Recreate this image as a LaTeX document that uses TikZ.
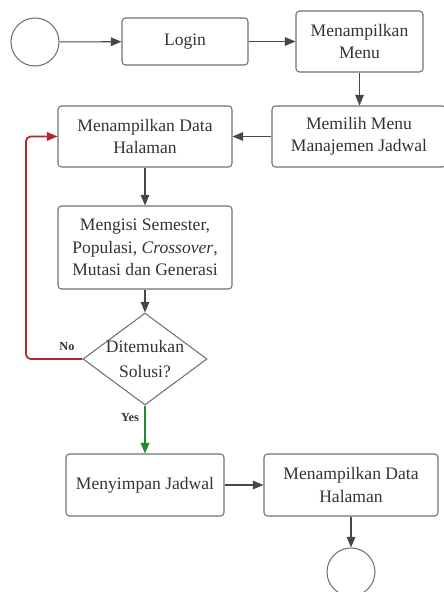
\documentclass[tikz,border=0pt]{standalone}
\usepackage{fontspec}
\setmainfont{Liberation Serif}
\usetikzlibrary{arrows.meta,shapes.geometric}
\definecolor{boxline}{HTML}{707070}
\definecolor{txt}{HTML}{333333}
\definecolor{arrowgray}{HTML}{43484E}
\definecolor{noRed}{HTML}{B3262B}
\definecolor{yesGreen}{HTML}{1E8C2F}
\begin{document}
\begin{tikzpicture}[x=0.03cm, y=-0.03cm, >={Triangle[length=0.32cm,width=0.26cm]},
        box/.style={draw=boxline, line width=0.9pt, rounded corners=3pt, align=center,
            text=txt, font=\fontsize{15}{19}\selectfont, inner sep=0pt},
        term/.style={circle, draw=boxline, line width=0.9pt, minimum size=1.44cm, inner sep=0pt},
        flow/.style={->, arrowgray, line width=0.9pt},
        answer/.style={font=\bfseries\fontsize{10.5}{12}\selectfont, text=txt}]
    \useasboundingbox (0,0) rectangle (443,592);
    % start and first row
    \node[term] (start) at (35,42) {};
    \node[box, minimum width=3.78cm, minimum height=1.41cm] (login) at (185,41.5) {Login};
    \node[box, minimum width=3.81cm, minimum height=1.83cm] (menu) at (359.5,41.5) {Menampilkan\\Menu};
    % second row
    \node[box, minimum width=5.22cm, minimum height=1.83cm] (pilih) at (359,136.5) {Memilih Menu\\Manajemen Jadwal};
    \node[box, minimum width=5.22cm, minimum height=1.83cm] (data) at (145,136.5) {Menampilkan Data\\Halaman};
    \node[box, minimum width=5.22cm, minimum height=2.49cm] (isi) at (145,247.5) {Mengisi Semester,\\Populasi, \textit{Crossover},\\Mutasi dan Generasi};
    % decision
    \node[diamond, draw=boxline, line width=0.9pt, minimum width=3.72cm, minimum height=2.76cm, inner sep=0pt,
        label={[align=center, text=txt, font=\fontsize{15}{21}\selectfont]center:Ditemukan\\Solusi?}] (dia) at (145,359) {};
    \coordinate (bend) at (26,359);
    \node[answer] (lblno) at (67,347) {No};
    \node[answer] (lblyes) at (130,418) {Yes};
    % last row
    \node[box, minimum width=4.74cm, minimum height=1.86cm] (simpan) at (145,485) {Menyimpan Jadwal};
    \node[box, minimum width=5.22cm, minimum height=1.86cm] (tampil) at (351,485) {Menampilkan Data\\Halaman};
    \node[term] (stop) at (351,572) {};

    \draw[flow] (start) -- (login);
    \draw[flow] (login) -- (menu);
    \draw[flow] (menu.south) -- (menu.south |- pilih.north);
    \draw[flow] (pilih) -- (data);
    \draw[flow] (data) -- (isi);
    \draw[flow] (isi) -- (dia);
    \draw[->, noRed, line width=1.5pt, rounded corners=4pt] (dia.west) -- (bend) |- (data.west);
    \draw[->, yesGreen, line width=1.5pt] (dia.south) -- (simpan.north);
    \draw[flow] (simpan) -- (tampil);
    \draw[flow] (tampil) -- (stop);
\end{tikzpicture}
\end{document}
